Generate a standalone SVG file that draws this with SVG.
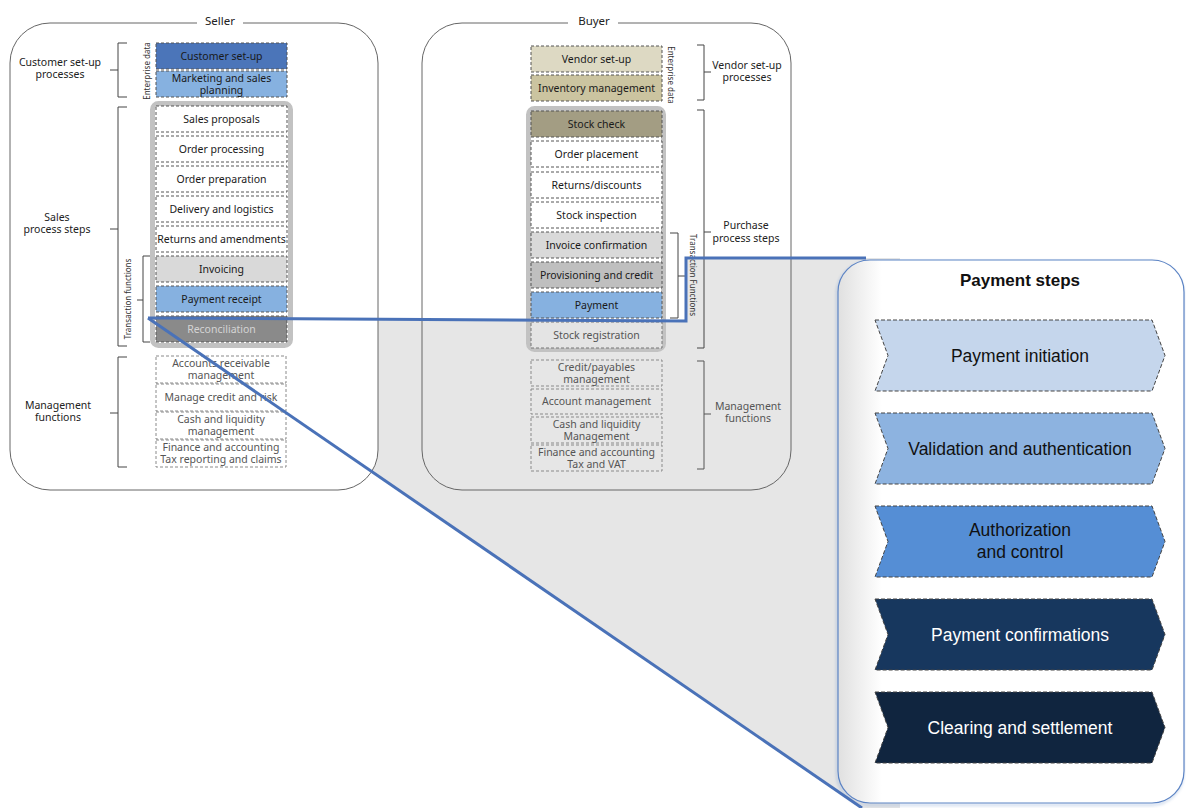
<svg xmlns="http://www.w3.org/2000/svg" width="1186" height="808" viewBox="0 0 1186 808">
  <defs>
    <linearGradient id="boxShade" gradientUnits="userSpaceOnUse" x1="838" y1="0" x2="882" y2="0">
      <stop offset="0" stop-color="#e0e0e0"/>
      <stop offset="1" stop-color="#ffffff"/>
    </linearGradient>
    <filter id="soft" x="-10%" y="-10%" width="120%" height="120%">
      <feGaussianBlur stdDeviation="1.5"/>
    </filter>
  </defs>
  <style>
    .t{font-family:"Noto Sans","DejaVu Sans",sans-serif;font-size:10.5px;fill:#1a1a1a;text-anchor:middle}
    .lbl{font-family:"Noto Sans","DejaVu Sans",sans-serif;font-size:10.5px;fill:#222;text-anchor:middle}
    .muted{fill:#555}
    .rot{font-family:"Noto Sans","DejaVu Sans",sans-serif;font-size:8px;fill:#333;text-anchor:middle}
    .ttl{font-family:"Noto Sans","DejaVu Sans",sans-serif;font-size:11.5px;fill:#222;text-anchor:middle}
    .cell{stroke:#555;stroke-width:1;stroke-dasharray:3 2}
    .mg{fill:none;stroke:#8a8a8a;stroke-width:1;stroke-dasharray:3 2}
    .frame{fill:#fff;stroke:#c2c2c2;stroke-width:5}
    .brk{fill:none;stroke:#444;stroke-width:1}
    .panel{fill:none;stroke:#666;stroke-width:1}
    .chev{stroke:#444;stroke-width:1;stroke-dasharray:4 2}
    .ct{font-family:"Liberation Sans",Arial,sans-serif;font-size:17.5px;text-anchor:middle;fill:#111}
    .ctw{fill:#fff}
    .zoom{fill:none;stroke:#4a72b8;stroke-width:3;stroke-linejoin:miter}
  </style>

  <rect width="1186" height="808" fill="#fff"/>

  <!-- magnified area behind everything -->
  <polygon id="zoom-area" points="148,318 686,321 686,258 900,258 900,808 862,808" fill="#e6e6e6"/>

  <!-- Seller panel -->
  <g id="seller">
    <path d="M197,23 H50 A40,40 0 0 0 10,63 V450 A40,40 0 0 0 50,490 H338 A40,40 0 0 0 378,450 V63 A40,40 0 0 0 338,23 H243" fill="#fff" stroke="#666" stroke-width="1"/>
    <text class="ttl" x="220" y="25">Seller</text>

    <rect class="frame" x="152.5" y="103.5" width="138" height="242" rx="6"/>

    <g id="s-customer-setup"><rect class="cell" x="156" y="43" width="131" height="26" fill="#4b75b9"/><text class="t" x="221.5" y="60">Customer set-up</text></g>
    <g id="s-marketing"><rect class="cell" x="156" y="71" width="131" height="26" fill="#86b1e0"/><text class="t" x="221.5" y="81.5">Marketing and sales</text><text class="t" x="221.5" y="93.5">planning</text></g>
    <g id="s-sales-proposals"><rect class="cell" x="156" y="106" width="131" height="26" fill="#fff"/><text class="t" x="221.5" y="123">Sales proposals</text></g>
    <g id="s-order-processing"><rect class="cell" x="156" y="136" width="131" height="26" fill="#fff"/><text class="t" x="221.5" y="153">Order processing</text></g>
    <g id="s-order-preparation"><rect class="cell" x="156" y="166" width="131" height="26" fill="#fff"/><text class="t" x="221.5" y="183">Order preparation</text></g>
    <g id="s-delivery"><rect class="cell" x="156" y="196" width="131" height="26" fill="#fff"/><text class="t" x="221.5" y="213">Delivery and logistics</text></g>
    <g id="s-returns"><rect class="cell" x="156" y="226" width="131" height="26" fill="#fff"/><text class="t" x="221.5" y="243">Returns and amendments</text></g>
    <g id="s-invoicing"><rect class="cell" x="156" y="256" width="131" height="26" fill="#d9d9d9"/><text class="t" x="221.5" y="273">Invoicing</text></g>
    <g id="s-payment-receipt"><rect class="cell" x="156" y="286" width="131" height="26" fill="#86b1e0"/><text class="t" x="221.5" y="303">Payment receipt</text></g>
    <g id="s-reconciliation"><rect class="cell" x="156" y="316" width="131" height="26" fill="#8a8a8a"/><text class="t" x="221.5" y="333" style="fill:#d4d4d4">Reconciliation</text></g>

    <g id="s-accounts-receivable"><rect class="mg" x="156" y="356" width="130" height="27"/><text class="t muted" x="221" y="367">Accounts receivable</text><text class="t muted" x="221" y="379">management</text></g>
    <g id="s-credit-risk"><rect class="mg" x="156" y="384" width="130" height="27"/><text class="t muted" x="221" y="401">Manage credit and risk</text></g>
    <g id="s-cash"><rect class="mg" x="156" y="412" width="130" height="27"/><text class="t muted" x="221" y="423">Cash and liquidity</text><text class="t muted" x="221" y="435">management</text></g>
    <g id="s-finance"><rect class="mg" x="156" y="440" width="130" height="27"/><text class="t muted" x="221" y="451">Finance and accounting</text><text class="t muted" x="221" y="463">Tax reporting and claims</text></g>

    <!-- brackets and group labels -->
    <path class="brk" d="M127,43 H118 V97 H127 M118,70 H110"/>
    <text class="lbl" x="60" y="66">Customer set-up</text><text class="lbl" x="60" y="78">processes</text>
    <path class="brk" d="M127,107 H118 V346 H127 M118,229 H110"/>
    <text class="lbl" x="57" y="221">Sales</text><text class="lbl" x="57" y="233">process steps</text>
    <path class="brk" d="M150,256 H143 V342 H150 M143,300 H137"/>
    <path class="brk" d="M127,357 H118 V467 H127 M118,413 H110"/>
    <text class="lbl" x="58" y="409">Management</text><text class="lbl" x="58" y="421">functions</text>
    <text class="rot" transform="translate(150,71) rotate(-90)">Enterprise data</text>
    <text class="rot" transform="translate(131,299) rotate(-90)">Transaction functions</text>
  </g>

  <!-- Buyer panel -->
  <g id="buyer">
    <path d="M568,23 H462 A40,40 0 0 0 422,63 V450 A40,40 0 0 0 462,490 H751 A40,40 0 0 0 791,450 V63 A40,40 0 0 0 751,23 H618" class="panel"/>
    <text class="ttl" x="594" y="25">Buyer</text>

    <rect class="frame" x="528.5" y="108.5" width="135" height="241" rx="6"/>
    <rect x="531" y="320" width="130" height="27" fill="#e4e4e4"/>

    <g id="b-vendor-setup"><rect class="cell" x="531" y="46" width="131" height="26" fill="#ddd9c3"/><text class="t" x="596.5" y="63">Vendor set-up</text></g>
    <g id="b-inventory"><rect class="cell" x="531" y="75" width="131" height="26" fill="#cbc4a0"/><text class="t" x="596.5" y="92">Inventory management</text></g>
    <g id="b-stock-check"><rect class="cell" x="531" y="111" width="131" height="26" fill="#a39d83"/><text class="t" x="596.5" y="128">Stock check</text></g>
    <g id="b-order-placement"><rect class="cell" x="531" y="141" width="131" height="26" fill="#fff"/><text class="t" x="596.5" y="158">Order placement</text></g>
    <g id="b-returns"><rect class="cell" x="531" y="172" width="131" height="26" fill="#fff"/><text class="t" x="596.5" y="189">Returns/discounts</text></g>
    <g id="b-stock-inspection"><rect class="cell" x="531" y="202" width="131" height="26" fill="#fff"/><text class="t" x="596.5" y="219">Stock inspection</text></g>
    <g id="b-invoice-confirmation"><rect class="cell" x="531" y="232" width="131" height="26" fill="#d9d9d9"/><text class="t" x="596.5" y="249">Invoice confirmation</text></g>
    <g id="b-provisioning"><rect class="cell" x="531" y="262" width="131" height="26" fill="#bfbfbf"/><text class="t" x="596.5" y="279">Provisioning and credit</text></g>
    <g id="b-payment"><rect class="cell" x="531" y="292" width="131" height="26" fill="#86b1e0"/><text class="t" x="596.5" y="309">Payment</text></g>
    <g id="b-stock-registration"><rect class="cell" x="531" y="322" width="131" height="26" fill="#e4e4e4" style="stroke:#777"/><text class="t muted" x="596.5" y="339">Stock registration</text></g>

    <g id="b-credit-payables"><rect class="mg" x="531" y="360" width="131" height="26"/><text class="t muted" x="596.5" y="370.5">Credit/payables</text><text class="t muted" x="596.5" y="382.5">management</text></g>
    <g id="b-account"><rect class="mg" x="531" y="389" width="131" height="25"/><text class="t muted" x="596.5" y="405">Account management</text></g>
    <g id="b-cash"><rect class="mg" x="531" y="417" width="131" height="26"/><text class="t muted" x="596.5" y="427.5">Cash and liquidity</text><text class="t muted" x="596.5" y="439.5">Management</text></g>
    <g id="b-finance"><rect class="mg" x="531" y="445" width="131" height="26"/><text class="t muted" x="596.5" y="455.5">Finance and accounting</text><text class="t muted" x="596.5" y="467.5">Tax and VAT</text></g>

    <path class="brk" d="M697,45 H704 V100 H697 M704,72 H711"/>
    <text class="lbl" x="747" y="69">Vendor set-up</text><text class="lbl" x="747" y="81">processes</text>
    <path class="brk" d="M697,110 H704 V348 H697 M704,232 H711"/>
    <text class="lbl" x="746" y="229">Purchase</text><text class="lbl" x="746" y="242">process steps</text>
    <path class="brk" d="M670,233 H678 V318 H670 M678,276 H685"/>
    <path class="brk" d="M697,361 H704 V469 H697 M704,414 H711" style="stroke:#555"/>
    <text class="lbl muted" x="748" y="410">Management</text><text class="lbl muted" x="748" y="422">functions</text>
    <text class="rot" transform="translate(668,75) rotate(90)">Enterprise data</text>
    <text class="rot muted" transform="translate(690,275) rotate(90)">Transaction Functions</text>
  </g>

  <!-- Payment steps panel -->
  <g id="payment-steps">
    <rect x="837" y="262" width="346" height="543" rx="32" fill="none" stroke="#7f9fcf" stroke-width="2" opacity="0.45" filter="url(#soft)"/>
    <rect x="838" y="260" width="346" height="543" rx="32" fill="url(#boxShade)" stroke="#5b83c4" stroke-width="1.2"/>
    <text x="1020" y="286" style="font-family:'Liberation Sans',Arial,sans-serif;font-size:17px;font-weight:bold;text-anchor:middle;fill:#111">Payment steps</text>

    <g id="step-initiation">
      <polygon class="chev" points="875,320 1152,320 1165,355.5 1152,391 875,391 888,355.5" fill="#c5d6ec"/>
      <text class="ct" x="1020" y="361.5">Payment initiation</text>
    </g>
    <g id="step-validation">
      <polygon class="chev" points="875,413 1152,413 1165,448.5 1152,484 875,484 888,448.5" fill="#8db3e0"/>
      <text class="ct" x="1020" y="454.5">Validation and authentication</text>
    </g>
    <g id="step-authorization">
      <polygon class="chev" points="875,506 1152,506 1165,541.5 1152,577 875,577 888,541.5" fill="#558ed5"/>
      <text class="ct" x="1020" y="536">Authorization</text>
      <text class="ct" x="1020" y="558">and control</text>
    </g>
    <g id="step-confirmations">
      <polygon class="chev" points="875,599 1152,599 1165,634.5 1152,670 875,670 888,634.5" fill="#17375e"/>
      <text class="ct ctw" x="1020" y="640.5">Payment confirmations</text>
    </g>
    <g id="step-clearing">
      <polygon class="chev" points="875,692 1152,692 1165,727.5 1152,763 875,763 888,727.5" fill="#10253f"/>
      <text class="ct ctw" x="1020" y="733.5">Clearing and settlement</text>
    </g>
  </g>

  <!-- zoom connectors -->
  <g id="connectors">
    <polyline class="zoom" points="148,318 686,321 686,258 866,258"/>
    <line class="zoom" x1="148" y1="318" x2="862" y2="808"/>
  </g>
</svg>
